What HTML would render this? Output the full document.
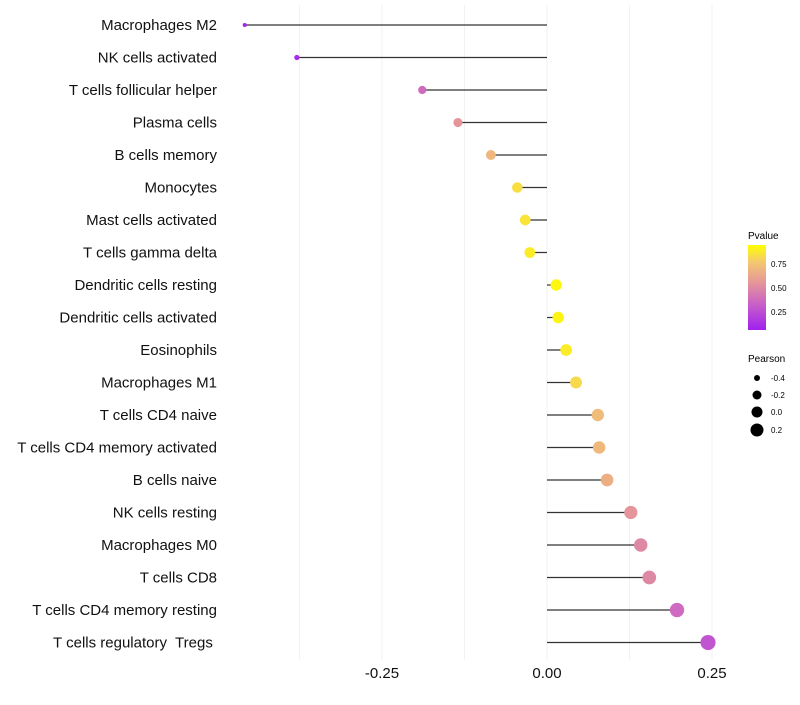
<!DOCTYPE html>
<html><head><meta charset="utf-8"><style>
body{margin:0;background:#fff;font-family:"Liberation Sans",sans-serif}
svg text{font-family:"Liberation Sans",sans-serif;white-space:pre}
</style></head><body>
<svg id="chart" width="800" height="700">
<defs><linearGradient id="pg" x1="0" y1="1" x2="0" y2="0">
<stop offset="0" stop-color="#a020f0"/><stop offset="0.3" stop-color="#c85fc8"/><stop offset="0.55" stop-color="#e4949a"/><stop offset="0.8" stop-color="#f4c870"/><stop offset="1" stop-color="#ffff00"/></linearGradient></defs>
<g id="grid"></g><g id="marks"></g><g id="labels"></g>
<g>
<text x="748" y="239" font-size="10">Pvalue</text>
<rect x="748" y="245" width="18" height="85" fill="url(#pg)"/>
<text x="771" y="267" font-size="8">0.75</text>
<text x="771" y="291" font-size="8">0.50</text>
<text x="771" y="315" font-size="8">0.25</text>
</g>
<g>
<text x="748" y="362" font-size="10">Pearson</text>
<circle cx="757" cy="378" r="3"/><text x="771" y="381" font-size="8">-0.4</text>
<circle cx="757" cy="395" r="4.5"/><text x="771" y="398" font-size="8">-0.2</text>
<circle cx="757" cy="412" r="5.5"/><text x="771" y="415" font-size="8">0.0</text>
<circle cx="757" cy="430" r="6.5"/><text x="771" y="433" font-size="8">0.2</text>
</g>
</svg>
<script>
const cells=["Macrophages M2","NK cells activated","T cells follicular helper","Plasma cells","B cells memory","Monocytes","Mast cells activated","T cells gamma delta","Dendritic cells resting","Dendritic cells activated","Eosinophils","Macrophages M1","T cells CD4 naive","T cells CD4 memory activated","B cells naive","NK cells resting","Macrophages M0","T cells CD8","T cells CD4 memory resting","T cells regulatory  Tregs "];
const pearson=[-0.458,-0.379,-0.189,-0.135,-0.085,-0.045,-0.033,-0.026,0.014,0.017,0.029,0.044,0.077,0.079,0.091,0.127,0.142,0.155,0.197,0.244];
const pvalue=[0.02,0.05,0.35,0.55,0.72,0.88,0.9,0.93,0.97,0.96,0.93,0.86,0.74,0.73,0.68,0.55,0.5,0.5,0.35,0.25];
const ticks=[-0.25,0,0.25];
const tickLabels=["-0.25","0.00","0.25"];
const gridVals=[-0.375,-0.25,-0.125,0,0.125,0.25];
const NS="http://www.w3.org/2000/svg";
const x=v=>547+v*660;
const y=i=>25+i*32.5;
const rad=v=>2+(v+0.46)/0.7*5.5;
const stops=[[0,[160,32,240]],[0.3,[200,95,200]],[0.55,[228,148,154]],[0.8,[244,200,112]],[1,[255,255,0]]];
function col(p){for(let k=1;k<stops.length;k++){if(p<=stops[k][0]){const a=stops[k-1],b=stops[k],t=(p-a[0])/(b[0]-a[0]);return "rgb("+a[1].map((c,j)=>Math.round(c+(b[1][j]-c)*t)).join(",")+")";}}return "rgb(255,255,0)";}
function mk(t,a,p){const e=document.createElementNS(NS,t);for(const k in a)e.setAttribute(k,a[k]);p.appendChild(e);return e;}
const grid=document.getElementById('grid'),marks=document.getElementById('marks'),labels=document.getElementById('labels');
gridVals.forEach(g=>{const l=mk('line',{x1:x(g),x2:x(g),y1:5,y2:660,stroke:'#f2f2f2','stroke-width':1},grid);

});
ticks.forEach((t,i)=>{const e=mk('text',{x:x(t),y:678,'font-size':15,'text-anchor':'middle',fill:'#111'},labels);e.textContent=tickLabels[i];

});
cells.forEach((c,i)=>{
const l=mk('line',{x1:x(0),x2:x(pearson[i]),y1:y(i),y2:y(i),stroke:'#333','stroke-width':1.2},marks);


const d=mk('circle',{cx:x(pearson[i]),cy:y(i),r:rad(pearson[i]),fill:col(pvalue[i])},marks);


const t=mk('text',{x:217,y:y(i)+5,'font-size':15,'text-anchor':'end',fill:'#111'},labels);t.textContent=c;


});
</script>
</body></html>
